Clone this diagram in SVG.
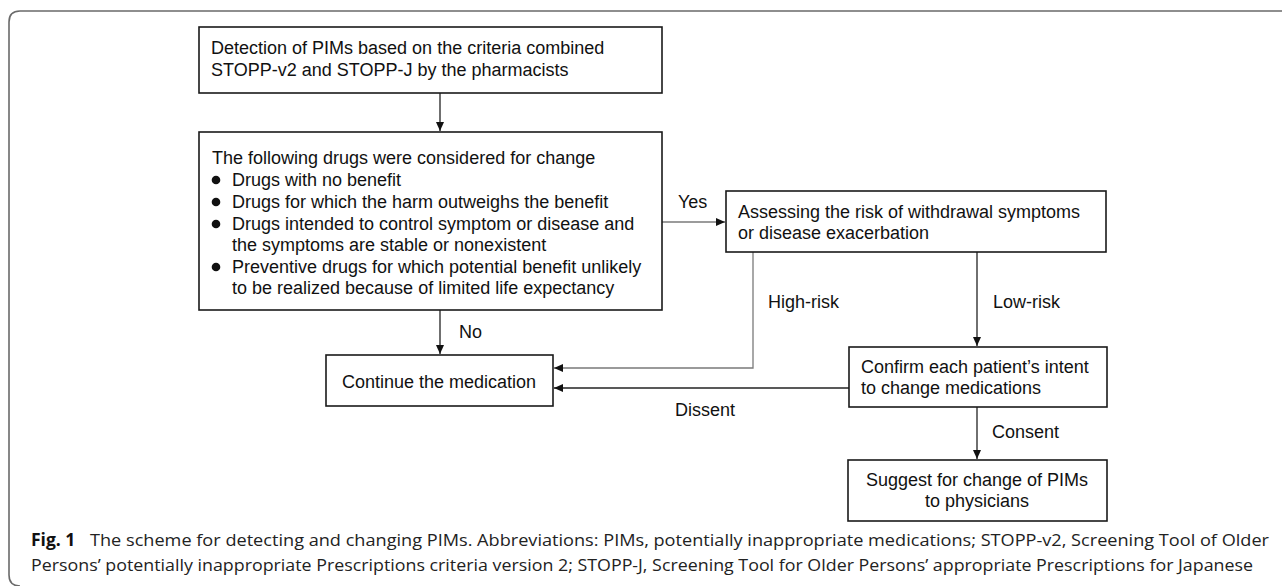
<svg xmlns="http://www.w3.org/2000/svg" width="1282" height="586" viewBox="0 0 1282 586">
<style>
.box{fill:#fff;stroke:#1a1a1a;stroke-width:1.6}
.t{font-family:"Liberation Sans",Arial,sans-serif;font-size:18px;fill:#111}
.c{text-anchor:middle}
.ln{fill:none;stroke:#7a7a7a;stroke-width:1.3}
.dk{stroke:#222}
.cap{font-family:"Open Sans","Noto Sans",sans-serif;font-size:17px;fill:#222}
.capb{font-family:"Open Sans","Noto Sans",sans-serif;font-size:17.5px;font-weight:bold;fill:#111}
</style>
<defs>
<marker id="ah" markerWidth="10" markerHeight="8" refX="9" refY="4" orient="auto" markerUnits="userSpaceOnUse">
<path d="M0,0 L9,4 L0,8 Z" fill="#111"/>
</marker>
</defs>
<rect width="1282" height="586" fill="#fff"/>
<path d="M1282,11 H20 Q9,11 9,22 V575 Q9,586 20,586" fill="none" stroke="#6a6a6a" stroke-width="1.6"/>

<g id="connectors">
<path class="ln dk" d="M440,93 V131" marker-end="url(#ah)"/>
<path class="ln" d="M662,222 H725" marker-end="url(#ah)"/>
<path class="ln dk" d="M440,310 V354" marker-end="url(#ah)"/>
<path class="ln" d="M753,252 V368 H554" marker-end="url(#ah)"/>
<path class="ln dk" d="M977,252 V346" marker-end="url(#ah)"/>
<path class="ln dk" d="M849,388 H554" marker-end="url(#ah)"/>
<path class="ln dk" d="M977,407 V459" marker-end="url(#ah)"/>
<text class="t" x="678" y="208">Yes</text>
<text class="t" x="459" y="338">No</text>
<text class="t" x="768" y="308">High-risk</text>
<text class="t" x="993" y="308">Low-risk</text>
<text class="t" x="675" y="416">Dissent</text>
<text class="t" x="992" y="438">Consent</text>
</g>

<g id="detect">
<rect class="box" x="199" y="27" width="463" height="66"/>
<text class="t" x="211" y="54">Detection of PIMs based on the criteria combined</text>
<text class="t" x="211" y="76">STOPP-v2 and STOPP-J by the pharmacists</text>
</g>

<g id="consider">
<rect class="box" x="199" y="132" width="463" height="178"/>
<text class="t" x="212" y="164">The following drugs were considered for change</text>
<circle cx="216" cy="180" r="4.3" fill="#111"/>
<circle cx="216" cy="202" r="4.3" fill="#111"/>
<circle cx="216" cy="224" r="4.3" fill="#111"/>
<circle cx="216" cy="267" r="4.3" fill="#111"/>
<text class="t" x="232" y="186">Drugs with no benefit</text>
<text class="t" x="232" y="208">Drugs for which the harm outweighs the benefit</text>
<text class="t" x="232" y="230">Drugs intended to control symptom or disease and</text>
<text class="t" x="232" y="251">the symptoms are stable or nonexistent</text>
<text class="t" x="232" y="273">Preventive drugs for which potential benefit unlikely</text>
<text class="t" x="232" y="294">to be realized because of limited life expectancy</text>
</g>

<g id="assess">
<rect class="box" x="726" y="191" width="380" height="61"/>
<text class="t" x="738" y="218">Assessing the risk of withdrawal symptoms</text>
<text class="t" x="738" y="239">or disease exacerbation</text>
</g>

<g id="continue">
<rect class="box" x="326" y="355" width="227" height="51"/>
<text class="t" x="342" y="388">Continue the medication</text>
</g>

<g id="confirm">
<rect class="box" x="849" y="347" width="258" height="60"/>
<text class="t" x="861" y="373">Confirm each patient’s intent</text>
<text class="t" x="861" y="394">to change medications</text>
</g>

<g id="suggest">
<rect class="box" x="848" y="460" width="259" height="61"/>
<text class="t c" x="977" y="486">Suggest for change of PIMs</text>
<text class="t c" x="977" y="507">to physicians</text>
</g>

<g id="caption">
<text class="capb" x="31" y="546">Fig. 1</text>
<text class="cap" x="90" y="546" textLength="1179" lengthAdjust="spacingAndGlyphs">The scheme for detecting and changing PIMs. Abbreviations: PIMs, potentially inappropriate medications; STOPP-v2, Screening Tool of Older</text>
<text class="cap" x="31" y="571" textLength="1222" lengthAdjust="spacingAndGlyphs">Persons’ potentially inappropriate Prescriptions criteria version 2; STOPP-J, Screening Tool for Older Persons’ appropriate Prescriptions for Japanese</text>
</g>
</svg>
